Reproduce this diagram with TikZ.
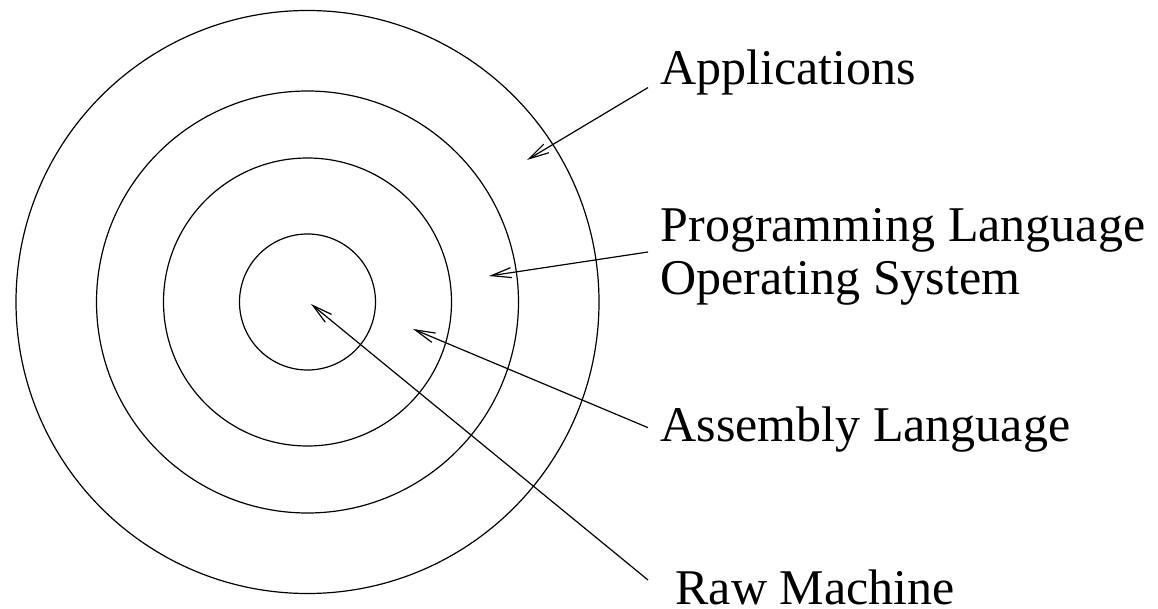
\documentclass[tikz,border=0pt]{standalone}
\usepackage{fontspec}
\setmainfont{Liberation Serif}
\usetikzlibrary{arrows.meta}
\begin{document}
\begin{tikzpicture}[x=0.5pt, y=-0.5pt, line width=0.6pt,
    tag/.style={font=\fontsize{25}{26.5}\selectfont, inner xsep=6pt, inner ysep=0pt, anchor=base west},
    pointer/.style={-{Straight Barb[length=10pt,width=5pt]}}]
    \useasboundingbox (0,0) rectangle (1158,609);
    % rings, innermost first
    \coordinate (c) at (307.5,302);
    \foreach \r in {34, 72, 105.5, 145.75}
        \draw (c) circle[radius=\r pt];
    % labels
    \node[tag] (apps) at (648,85) {Applications};
    \node[tag, align=left, anchor=west] (lang) at (648,257) {Programming Language\\Operating System};
    \node[tag] (asm) at (648,442) {Assembly Language};
    \node[tag, inner xsep=13.5pt] (raw) at (648,604) {Raw Machine};
    % arrow tips inside the rings
    \coordinate (appsend) at (527,160);
    \coordinate (langend) at (489,276);
    \coordinate (asmend) at (413,329);
    \coordinate (rawend) at (311,304);
    % pointers
    \draw[pointer] ([yshift=-7.3pt]apps.west) -- (appsend);
    \draw[pointer] ([yshift=2.5pt]lang.west) -- (langend);
    \draw[pointer] ([yshift=1.2pt]asm.west) -- (asmend);
    \draw[pointer] ([yshift=3.45pt]raw.west) -- (rawend);
\end{tikzpicture}
\end{document}
